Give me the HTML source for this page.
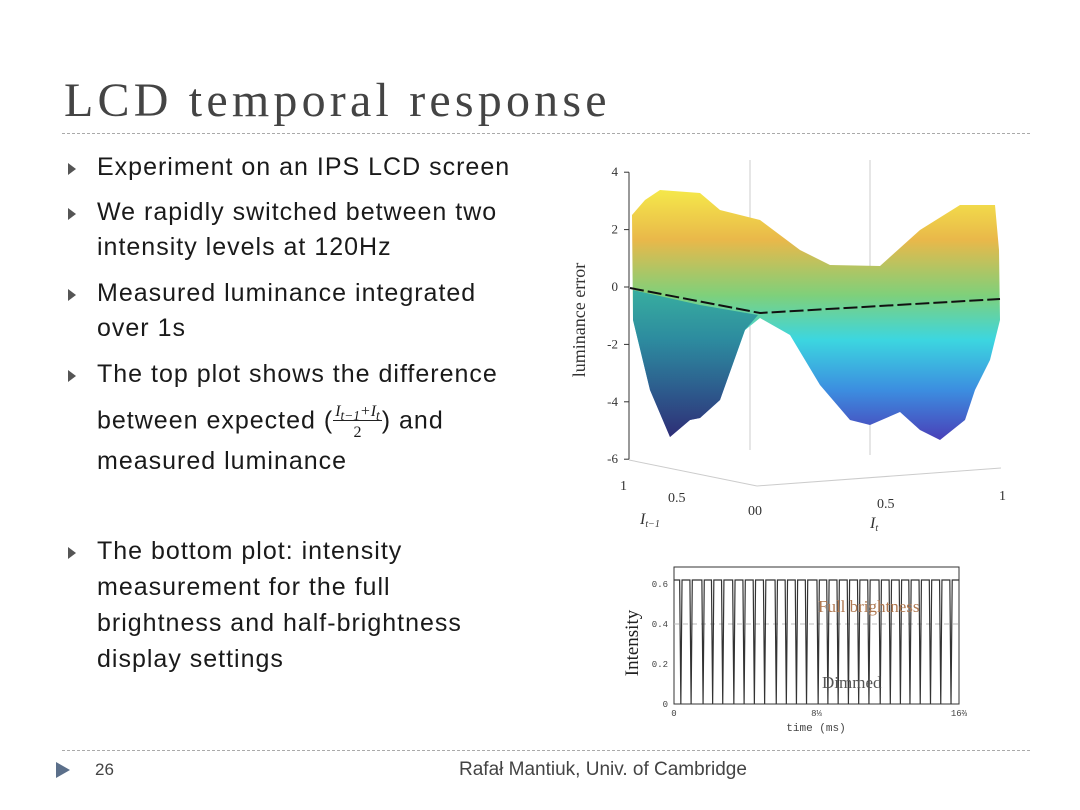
<!DOCTYPE html>
<html><head><meta charset="utf-8"><style>
body{margin:0;background:#fff;}
#slide{position:relative;width:1080px;height:810px;overflow:hidden;background:#fff;font-family:"Liberation Sans",sans-serif;color:#222;}
.t{position:absolute;white-space:nowrap;}
.b{position:absolute;font-size:25px;color:#1a1a1a;white-space:nowrap;letter-spacing:1px;}
.bul{position:absolute;left:68px;width:0;height:0;border-left:8px solid #555;border-top:6px solid transparent;border-bottom:6px solid transparent;}
</style></head><body>
<div id="slide">
<div class="t" style="left:64px;top:73px;font-family:'Liberation Serif',serif;font-size:48px;letter-spacing:4.2px;color:#444;">LCD temporal response</div>
<div style="position:absolute;left:62px;top:133px;width:968px;border-top:1px dashed #aaa;"></div>

<div class="bul" style="top:163px"></div>
<div class="b" style="left:97px;top:153px">Experiment on an IPS LCD screen</div>
<div class="bul" style="top:208px"></div>
<div class="b" style="left:97px;top:198px">We rapidly switched between two</div>
<div class="b" style="left:97px;top:233px">intensity levels at 120Hz</div>
<div class="bul" style="top:289px"></div>
<div class="b" style="left:97px;top:279px">Measured luminance integrated</div>
<div class="b" style="left:97px;top:314px">over 1s</div>
<div class="bul" style="top:370px"></div>
<div class="b" style="left:97px;top:360px">The top plot shows the difference</div>
<div class="b" style="left:97px;top:403px">between expected (<span style="display:inline-block;vertical-align:middle;text-align:center;font-size:16px;line-height:17px;letter-spacing:0;font-family:'Liberation Serif',serif;font-style:italic;"><span style="border-bottom:1px solid #222;padding:0 2px">I<sub>t−1</sub>+I<sub>t</sub></span><br><span style="font-style:normal">2</span></span>) and</div>
<div class="b" style="left:97px;top:447px">measured luminance</div>
<div class="bul" style="top:547px"></div>
<div class="b" style="left:97px;top:537px">The bottom plot: intensity</div>
<div class="b" style="left:97px;top:573px">measurement for the full</div>
<div class="b" style="left:97px;top:609px">brightness and half-brightness</div>
<div class="b" style="left:97px;top:645px">display settings</div>

<svg id="surf" width="1080" height="810" style="position:absolute;left:0;top:0">
<defs>
<linearGradient id="g1" x1="0" y1="0" x2="0" y2="1">
<stop offset="0" stop-color="#f5e84a"/><stop offset="0.2" stop-color="#e9b84a"/><stop offset="0.42" stop-color="#7fd07a"/><stop offset="0.6" stop-color="#3cd6e0"/><stop offset="0.8" stop-color="#3c8ee0"/><stop offset="1" stop-color="#4a40b8"/>
</linearGradient>
<linearGradient id="g2" x1="0" y1="0" x2="0" y2="1">
<stop offset="0" stop-color="#2aa8a8"/><stop offset="0.5" stop-color="#2a6a8a"/><stop offset="1" stop-color="#2a2a6a"/>
</linearGradient>
</defs>
<g stroke="#ccc" stroke-width="1" fill="none">
<line x1="750" y1="160" x2="750" y2="450"/><line x1="870" y1="160" x2="870" y2="455"/>
<line x1="629" y1="460" x2="757" y2="486"/><line x1="757" y1="486" x2="1001" y2="468"/>
</g>
<polygon fill="url(#g1)" points="632,215 645,200 660,190 700,193 720,210 760,220 800,250 830,265 880,266 920,230 960,205 995,205 999,250 1000,320 990,360 975,390 965,420 940,440 920,430 900,412 870,425 850,420 820,385 790,335 760,318 745,330 720,400 700,418 690,420 670,437 650,390 633,320"/>
<polygon fill="url(#g2)" opacity="0.85" points="633,290 700,305 758,315 745,330 720,400 700,418 690,420 670,437 650,390 633,320"/>
<polyline points="630,288 760,313 1000,299" fill="none" stroke="#111" stroke-width="2" stroke-dasharray="14,4"/>
<g id="zaxis" font-family="Liberation Serif,serif" font-size="13" fill="#333"></g>
<text x="585" y="320" transform="rotate(-90 585 320)" text-anchor="middle" font-family="Liberation Serif,serif" font-size="18" fill="#333">luminance error</text>
<g font-family="Liberation Serif,serif" font-size="14" fill="#333">
<text x="620" y="490">1</text><text x="668" y="502">0.5</text><text x="748" y="515">00</text>
<text x="877" y="508">0.5</text><text x="999" y="500">1</text>
<text x="640" y="524" font-style="italic" font-size="16">I<tspan font-size="10" dy="3">t−1</tspan></text>
<text x="870" y="528" font-style="italic" font-size="16">I<tspan font-size="10" dy="3">t</tspan></text>
</g>
</svg>

<svg id="bot" width="1080" height="810" style="position:absolute;left:0;top:0"></svg>

<div style="position:absolute;left:62px;top:750px;width:968px;border-top:1px dashed #aaa;"></div>
<div style="position:absolute;left:56px;top:762px;width:0;height:0;border-left:14px solid #5b6f8a;border-top:8px solid transparent;border-bottom:8px solid transparent;"></div>
<div class="t" style="left:95px;top:760px;font-size:17px;color:#444;">26</div>
<div class="t" style="left:459px;top:759px;font-size:19px;color:#444;">Rafał Mantiuk, Univ. of Cambridge</div>
</div>
<script>
var zTicks=[4,2,0,-2,-4,-6];
var zTickLabels=["4","2","0","-2","-4","-6"];
var dipTimes=[0.4,1.0,1.7,2.26,2.85,3.5,4.1,4.7,5.3,5.98,6.57,7.16,7.75,8.43,9.0,9.6,10.2,10.8,11.4,12.06,12.65,13.24,13.8,14.4,15.0,15.6,16.2];
var fullLevel=[0.62];
var yTicks=[0,0.2,0.4,0.6];
var yTickLabels=["0","0.2","0.4","0.6"];
var xTickLabels=["0","8⅓","16⅔"];
var xTickVals=[0,8.333,16.667];
var NS="http://www.w3.org/2000/svg";
function mk(p,tag,attrs){var e=document.createElementNS(NS,tag);for(var k in attrs)e.setAttribute(k,attrs[k]);p.appendChild(e);return e;}
var za=document.getElementById('zaxis');
function zY(v){return 287-v*28.7;}
mk(za,'line',{x1:629,y1:zY(4),x2:629,y2:zY(-6),stroke:'#333'});
zTicks.forEach(function(v,i){
 var l=mk(za,'line',{x1:624,y1:zY(v),x2:629,y2:zY(v),stroke:'#333'});
 
 
 var t=mk(za,'text',{x:618,y:zY(v)+4,'text-anchor':'end'});t.textContent=zTickLabels[i];
 
 
});
var b=document.getElementById('bot');
var X0=674,X1=959,Y0=704,YT=567;
function xS(t){return X0+t/16.667*(X1-X0);}
function yS(v){return Y0-v/0.6*(Y0-584);}
mk(b,'rect',{x:X0,y:YT,width:X1-X0,height:Y0-YT,fill:'#fff',stroke:'#333','stroke-width':1});
mk(b,'line',{x1:X0,y1:yS(0.4),x2:X1,y2:yS(0.4),stroke:'#bbb','stroke-dasharray':'5,4'});
var pts=[];var w=0.07;
pts.push(xS(0)+','+yS(fullLevel[0]));
dipTimes.forEach(function(t){pts.push(xS(t-w)+','+yS(fullLevel[0]));pts.push(xS(t)+','+yS(0));pts.push(xS(t+w)+','+yS(fullLevel[0]));});
pts.push(xS(16.667)+','+yS(fullLevel[0]));
var pl=mk(b,'polyline',{points:pts.join(' '),fill:'none',stroke:'#333','stroke-width':1.2});


yTicks.forEach(function(v,i){
 var t=mk(b,'text',{x:668,y:yS(v)+3,'text-anchor':'end','font-size':9,'font-family':'Liberation Mono,monospace',fill:'#444'});t.textContent=yTickLabels[i];
 
 
});
xTickVals.forEach(function(v,i){
 var t=mk(b,'text',{x:xS(v),y:716,'text-anchor':'middle','font-size':9,'font-family':'Liberation Mono,monospace',fill:'#444'});t.textContent=xTickLabels[i];
 
 
});
var xt=mk(b,'text',{x:816,y:731,'text-anchor':'middle','font-size':11,'font-family':'Liberation Mono,monospace',fill:'#444'});xt.textContent='time (ms)';


var yt=mk(b,'text',{x:638,y:643,'text-anchor':'middle','font-size':19,'font-family':'Liberation Serif,serif',fill:'#222',transform:'rotate(-90 638 643)'});yt.textContent='Intensity';


var l1=mk(b,'text',{x:818,y:612,'font-size':17,'font-family':'Liberation Serif,serif',fill:'#b07850'});l1.textContent='Full brightness';


var l2=mk(b,'text',{x:822,y:688,'font-size':17,'font-family':'Liberation Serif,serif',fill:'#555'});l2.textContent='Dimmed';


</script>
</body></html>
